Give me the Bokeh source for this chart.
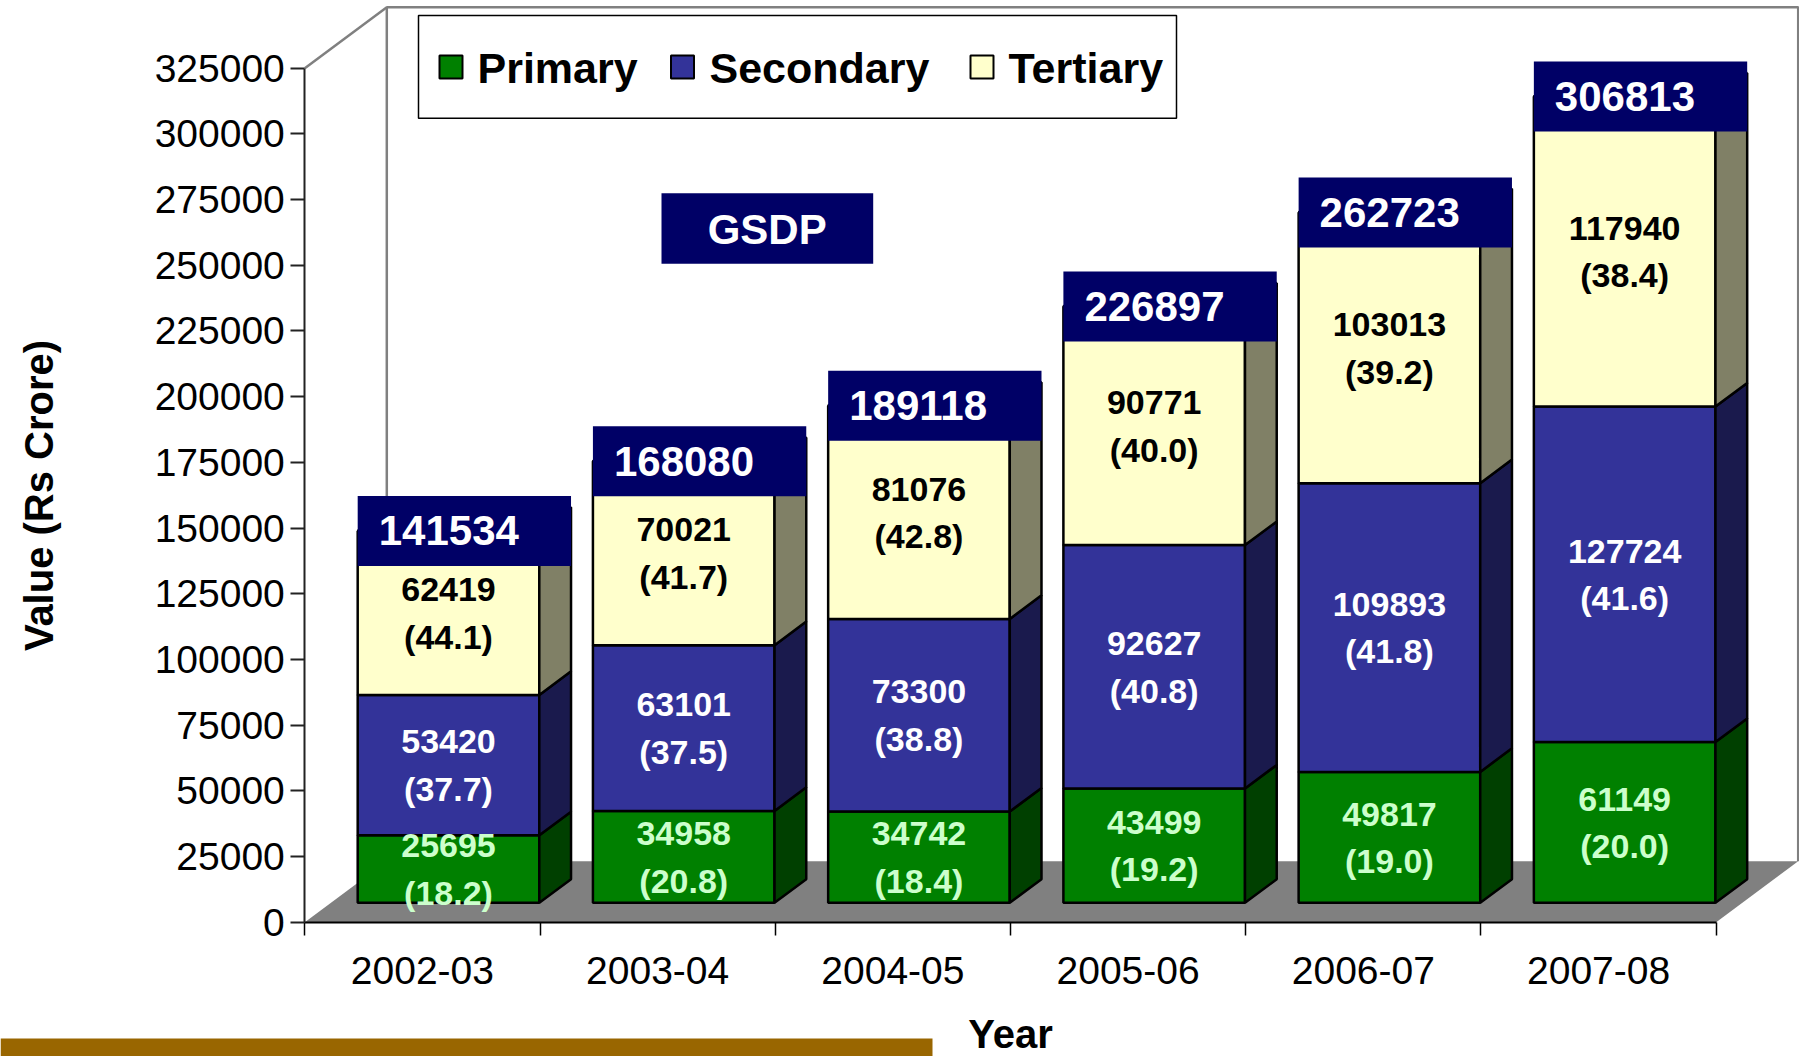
import numpy as np
from bokeh.plotting import figure
from bokeh.models import Range1d, LinearAxis, FixedTicker, ColumnDataSource, BasicTickFormatter
from bokeh.embed import file_html
from bokeh.resources import INLINE
from bokeh.core.properties import value

# ---------------- data ----------------
years = ["2002-03", "2003-04", "2004-05", "2005-06", "2006-07", "2007-08"]
primary = [25695, 34958, 34742, 43499, 49817, 61149]
secondary = [53420, 63101, 73300, 92627, 109893, 127724]
tertiary = [62419, 70021, 81076, 90771, 103013, 117940]
primary_pct = ["18.2", "20.8", "18.4", "19.2", "19.0", "20.0"]
secondary_pct = ["37.7", "37.5", "38.8", "40.8", "41.8", "41.6"]
tertiary_pct = ["44.1", "41.7", "42.8", "40.0", "39.2", "38.4"]
totals = [141534, 168080, 189118, 226897, 262723, 306813]
series_names = ["Primary", "Secondary", "Tertiary"]
y_ticks = [0, 25000, 50000, 75000, 100000, 125000, 150000, 175000, 200000,
           225000, 250000, 275000, 300000, 325000]
y_max = 325000

# ---------------- geometry (screen px -> data) ----------------
W, H = 1799, 1056
OFF = 0                 # page offset of the figure
KX = 235.233            # px per category
KY = 854.0 / y_max      # px per value unit
X0 = 304.3 - OFF        # figure px of x = 0
Y0 = 921.7 - OFF        # figure px (from top) of y = 0
x_start = -X0 / KX
x_end = x_start + W / KX
y_end = Y0 / KY
y_start = y_end - H / KY


def dx(px):  # screen x px -> data x
    return x_start + (px - OFF) / KX


def dy(py):  # screen y px -> data y
    return y_end - (py - OFF) / KY


DX, DY = 82 / KX, 61 / KY          # 3-D depth vector
BAR_W = 0.772
F_FRONT, F_BACK = 0.318, 0.705
fx, fy = F_FRONT * DX, F_FRONT * DY
sx, sy = (F_BACK - F_FRONT) * DX, (F_BACK - F_FRONT) * DY

FONT = value("Liberation Sans")

p = figure(width=W, height=H, output_backend="svg", toolbar_location=None,
           x_range=Range1d(x_start, x_end), y_range=Range1d(y_start, y_end),
           x_axis_type=None, y_axis_type=None, min_border=0)
p.outline_line_color = None
p.background_fill_color = "white"
p.border_fill_color = "white"

# ---------------- walls and floor ----------------
wall_top = min(y_max + DY, y_end - 1.5 / KY)
ncat = len(years)
p.patch([0, ncat, ncat + DX, DX], [0, 0, DY, DY], fill_color="#808080", line_color=None)
p.line([0, DX], [y_max, wall_top], line_color="#808080", line_width=2.5)
p.line([DX, DX, ncat + DX, ncat + DX], [DY, wall_top, wall_top, DY],
       line_color="#808080", line_width=2.5)

# ---------------- bars ----------------
cx = np.arange(ncat)
left = cx + (1 - BAR_W) / 2 + fx
right = left + BAR_W
front_cols = ["#008000", "#333399", "#FFFFCC"]
side_cols = ["#004000", "#1A1A4D", "#808066"]
text_cols = ["#CCFFCC", "#FFFFFF", "#000000"]
bottom = np.full(ncat, fy)
label_sources = []
for name, vals, pcts, fc, sc, tc in zip(series_names, [primary, secondary, tertiary],
                                        [primary_pct, secondary_pct, tertiary_pct],
                                        front_cols, side_cols, text_cols):
    top = bottom + np.array(vals, dtype=float)
    p.quad(left=left, right=right, bottom=bottom, top=top, fill_color=fc,
           line_color="black", line_width=2.5)
    p.patches([[r, r + sx, r + sx, r] for r in right],
              [[b, b + sy, t + sy, t] for b, t in zip(bottom, top)],
              fill_color=sc, line_color="black", line_width=2.5)
    label_sources.append((ColumnDataSource(dict(
        x=(left + right) / 2, y=(bottom + top) / 2,
        t=[f"{v}\n({pc})" for v, pc in zip(vals, pcts)])), tc))
    bottom = top

# top faces
p.patches([[l, r, r + sx, l + sx] for l, r in zip(left, right)],
          [[t, t, t + sy, t + sy] for t in bottom],
          fill_color="#E6E6B8", line_color="black", line_width=2.5)

for src, tc in label_sources:
    p.text(x="x", y="y", text="t", source=src, text_color=tc, text_font=FONT,
           text_font_style="bold", text_font_size="34px", text_align="center",
           text_baseline="middle", text_line_height=1.25, level="overlay")

# total boxes
tot = np.array(totals, dtype=float) + fy
box_h = 70 / KY
p.quad(left=left, right=right + sx, bottom=tot - box_h / 2, top=tot + box_h / 2,
       fill_color="#000066", line_color=None, level="overlay")
p.text(x=left + 21 / KX, y=tot, text=[str(t) for t in totals], text_color="white",
       text_font=FONT, text_font_style="bold", text_font_size="42px",
       text_align="left", text_baseline="middle", level="overlay")

# GSDP box
p.quad(left=[dx(661)], right=[dx(872.7)], top=[dy(192.7)], bottom=[dy(263.3)],
       fill_color="#000066", line_color=None)
p.text(x=[dx(766.7)], y=[dy(229)], text=["GSDP"], text_color="white", text_font=FONT,
       text_font_style="bold", text_font_size="42px", text_align="center",
       text_baseline="middle")

# legend
p.quad(left=[dx(418)], right=[dx(1176)], top=[dy(15)], bottom=[dy(117.7)],
       fill_color="white", line_color="black", line_width=1.5)
sq_x = [450.5, 682, 981.5]
tx_x = [477, 709, 1008]
p.rect(x=[dx(v) for v in sq_x], y=[dy(66.5)] * 3, width=23 / KX, height=23 / KY,
       fill_color=front_cols, line_color="black", line_width=2)
p.text(x=[dx(v) for v in tx_x], y=[dy(67)] * 3, text=series_names, text_color="black",
       text_font=FONT, text_font_style="bold", text_font_size="43px",
       text_align="left", text_baseline="middle")

# brown strip at the bottom
p.quad(left=[x_start], right=[dx(932)], top=[dy(1038)], bottom=[y_start],
       fill_color="#996600", line_color=None)

# ---------------- axes ----------------
yaxis = LinearAxis(fixed_location=0, bounds=(0, y_max), ticker=FixedTicker(ticks=y_ticks),
                   axis_label="Value (Rs Crore)",
                   formatter=BasicTickFormatter(use_scientific=False))
yaxis.axis_line_color = "#222222"
yaxis.axis_line_width = 2
yaxis.major_tick_line_color = "#222222"
yaxis.major_tick_line_width = 2
yaxis.major_tick_out = 14
yaxis.major_tick_in = 0
yaxis.minor_tick_out = 0
yaxis.minor_tick_in = 0
yaxis.major_label_standoff = 6
yaxis.major_label_text_font = "Liberation Sans"
yaxis.major_label_text_font_size = "39px"
yaxis.major_label_text_color = "black"
yaxis.axis_label_text_font = "Liberation Sans"
yaxis.axis_label_text_font_size = "40px"
yaxis.axis_label_text_font_style = "bold"
yaxis.axis_label_text_color = "black"
yaxis.axis_label_standoff = 90
p.add_layout(yaxis, "left")

centers = [i + 0.5 for i in range(ncat)]
xaxis = LinearAxis(fixed_location=0, bounds=(0, ncat),
                   ticker=FixedTicker(ticks=centers, minor_ticks=list(range(ncat + 1))),
                   axis_label="Year")
xaxis.major_label_overrides = {c: y for c, y in zip(centers, years)}
xaxis.axis_line_color = "black"
xaxis.axis_line_width = 2
xaxis.major_tick_out = 0
xaxis.major_tick_in = 0
xaxis.minor_tick_out = 13
xaxis.minor_tick_in = 0
xaxis.minor_tick_line_color = "black"
xaxis.minor_tick_line_width = 1.5
xaxis.major_label_standoff = 22
xaxis.major_label_text_font = "Liberation Sans"
xaxis.major_label_text_font_size = "39px"
xaxis.major_label_text_color = "black"
xaxis.axis_label_text_font = "Liberation Sans"
xaxis.axis_label_text_font_size = "40px"
xaxis.axis_label_text_font_style = "bold"
xaxis.axis_label_text_color = "black"
xaxis.axis_label_standoff = 24
p.add_layout(xaxis, "below")

open("out.html", "w").write(file_html(p, INLINE))
